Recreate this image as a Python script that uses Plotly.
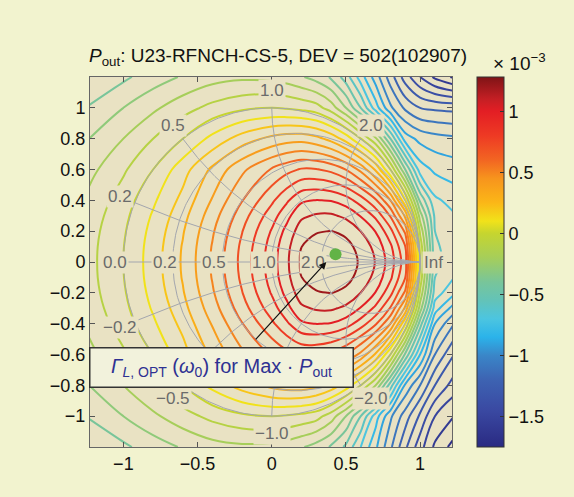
import numpy as np
import plotly.graph_objects as go

# ---------------- data (in units of 1e-3) ----------------
gamma_re = [-1.23, -1.0, -0.8, -0.6, -0.4, -0.2, 0.0, 0.1, 0.2, 0.3, 0.4, 0.5, 0.6, 0.7, 0.8, 0.9, 1.0, 1.1, 1.23]
gamma_im = [-1.2, -1.0, -0.8, -0.6, -0.4, -0.3, -0.2, -0.1, 0.0, 0.1, 0.2, 0.3, 0.4, 0.6, 0.8, 1.0, 1.2]

pout_e3 = [
    [-0.50, -0.42, -0.35, -0.29, -0.24, -0.22, -0.23, -0.25, -0.29, -0.34, -0.41, -0.52, -0.70, -0.88, -1.08, -1.28, -1.46, -1.62, -1.74],
    [-0.39, -0.30, -0.22, -0.14, -0.07, -0.02, 0.00, -0.01, -0.03, -0.06, -0.15, -0.30, -0.50, -0.75, -0.98, -1.15, -1.32, -1.50, -1.60],
    [-0.30, -0.20, -0.10, 0.00, 0.130, 0.246, 0.329, 0.355, 0.361, 0.329, 0.265, 0.159, 0.00, -0.20, -0.55, -0.92, -1.10, -1.30, -1.45],
    [-0.23, -0.115, 0.00, 0.157, 0.321, 0.478, 0.610, 0.667, 0.710, 0.707, 0.673, 0.598, 0.472, 0.285, 0.00, -0.42, -0.80, -1.10, -1.30],
    [-0.174, -0.052, 0.082, 0.230, 0.409, 0.596, 0.780, 0.882, 0.982, 1.003, 0.995, 0.948, 0.851, 0.716, 0.500, 0.111, -0.45, -0.90, -1.10],
    [-0.154, -0.029, 0.112, 0.265, 0.454, 0.654, 0.854, 0.967, 1.081, 1.112, 1.115, 1.079, 0.994, 0.877, 0.691, 0.378, -0.25, -0.75, -0.95],
    [-0.14, -0.013, 0.133, 0.291, 0.487, 0.696, 0.909, 1.029, 1.154, 1.192, 1.202, 1.175, 1.099, 0.996, 0.832, 0.579, -0.12, -0.65, -0.78],
    [-0.132, -0.003, 0.146, 0.307, 0.507, 0.722, 0.942, 1.068, 1.199, 1.241, 1.256, 1.234, 1.164, 1.070, 0.920, 0.702, -0.03, -0.60, -0.70],
    [-0.13, 0.00, 0.150, 0.312, 0.514, 0.731, 0.952, 1.080, 1.214, 1.257, 1.274, 1.254, 1.186, 1.095, 0.950, 0.744, 0.00, -0.57, -0.65],
    [-0.132, -0.003, 0.146, 0.307, 0.507, 0.722, 0.942, 1.068, 1.199, 1.241, 1.256, 1.234, 1.164, 1.070, 0.920, 0.702, -0.03, -0.58, -0.66],
    [-0.14, -0.013, 0.133, 0.291, 0.487, 0.696, 0.909, 1.029, 1.154, 1.192, 1.202, 1.175, 1.099, 0.996, 0.832, 0.579, -0.12, -0.60, -0.67],
    [-0.154, -0.029, 0.112, 0.265, 0.454, 0.654, 0.854, 0.967, 1.081, 1.112, 1.115, 1.079, 0.994, 0.877, 0.691, 0.378, -0.25, -0.62, -0.69],
    [-0.174, -0.052, 0.082, 0.230, 0.409, 0.596, 0.780, 0.882, 0.982, 1.003, 0.995, 0.948, 0.851, 0.716, 0.500, 0.111, -0.42, -0.68, -0.74],
    [-0.23, -0.115, 0.00, 0.157, 0.321, 0.478, 0.610, 0.667, 0.710, 0.707, 0.673, 0.598, 0.472, 0.285, 0.00, -0.40, -0.75, -0.82, -0.85],
    [-0.30, -0.20, -0.10, 0.00, 0.130, 0.246, 0.329, 0.355, 0.361, 0.329, 0.265, 0.159, 0.00, -0.18, -0.50, -0.85, -0.93, -0.96, -0.98],
    [-0.39, -0.30, -0.22, -0.14, -0.07, -0.02, 0.00, -0.01, -0.03, -0.06, -0.15, -0.30, -0.50, -0.75, -0.98, -1.12, -1.20, -1.22, -1.23],
    [-0.50, -0.42, -0.35, -0.29, -0.24, -0.22, -0.23, -0.25, -0.29, -0.34, -0.41, -0.55, -0.75, -0.95, -1.15, -1.35, -1.50, -1.62, -1.72],
]

opt_point = (0.43, 0.05)          # Gamma_L,OPT marker
arrow_head = (0.368, 0.0)
arrow_tail = (-0.135, -0.53)

smith_r = [0.2, 0.5, 1.0, 2.0]
smith_x = [0.2, 0.5, 1.0, 2.0]
r_labels = ["0.0", "0.2", "0.5", "1.0", "2.0"]
r_label_vals = [0.0, 0.2, 0.5, 1.0, 2.0]
x_labels = ["0.2", "0.5", "1.0", "2.0", "\u22120.2", "\u22120.5", "\u22121.0", "\u22122.0"]
x_label_vals = [0.2, 0.5, 1.0, 2.0, -0.2, -0.5, -1.0, -2.0]

cbar_ticks = [-1.5, -1.0, -0.5, 0.0, 0.5, 1.0]
cbar_ticktext = ["\u22121.5", "\u22121", "\u22120.5", "0", "0.5", "1"]
cbar_min, cbar_max = -1.75, 1.28
lev_start, lev_end, lev_step = -1.7, 1.2, 0.1

# colours sampled from the reference colour bar (value, colour)
color_stops = [
    (-1.75, "#2a2a82"), (-1.45, "#3a49a2"), (-1.2, "#3d63b2"), (-1.0, "#3a86c8"),
    (-0.85, "#2bb3ea"), (-0.7, "#4cc5e0"), (-0.55, "#63c3b8"), (-0.4, "#78c59a"),
    (-0.2, "#a6ce5a"), (0.0, "#c6d52f"), (0.1, "#f1e21a"), (0.25, "#fbb717"),
    (0.45, "#f7941d"), (0.6, "#f26522"), (0.8, "#ee3a24"), (1.0, "#e31e24"),
    (1.1, "#c41f24"), (1.28, "#7f1416"),
]

PAPER_BG = "#f2f3cf"
PLOT_BG = "#e9e2c3"

# ---------------- helpers ----------------
def hex2rgb(h):
    h = h.lstrip("#")
    return [int(h[i:i + 2], 16) for i in (0, 2, 4)]

def color_at(v):
    vals = [s[0] for s in color_stops]
    rgbs = [hex2rgb(s[1]) for s in color_stops]
    ch = [float(np.interp(v, vals, [c[k] for c in rgbs])) for k in range(3)]
    return "rgb(%d,%d,%d)" % tuple(int(round(c)) for c in ch)

cb_scale = [[round(float((v - cbar_min) / (cbar_max - cbar_min)), 6), c] for v, c in color_stops]
cb_scale[0][0], cb_scale[-1][0] = 0.0, 1.0
n_lev = int(round((lev_end - lev_start) / lev_step)) + 1
levels = [lev_start + i * lev_step for i in range(n_lev)]
ct_scale = [[round(i / (n_lev - 1), 6), color_at(lv)] for i, lv in enumerate(levels)]
ct_scale[0][0], ct_scale[-1][0] = 0.0, 1.0

fig = go.Figure()

fig.add_trace(go.Contour(
    x=gamma_re, y=gamma_im, z=pout_e3,
    contours=dict(start=lev_start, end=lev_end, size=lev_step, coloring="lines"),
    line=dict(width=2, smoothing=1.0),
    colorscale=ct_scale, showscale=False, hoverinfo="skip",
))

# Smith chart grid
gx, gy = [], []
th = np.linspace(0, 2 * np.pi, 361)
gx += [float(v) for v in np.cos(th)] + [None]
gy += [float(v) for v in np.sin(th)] + [None]
for r in smith_r:
    c, rad = r / (1 + r), 1 / (1 + r)
    gx += [float(c + rad * np.cos(t)) for t in th] + [None]
    gy += [float(rad * np.sin(t)) for t in th] + [None]
rr = np.concatenate([[0.0], np.logspace(-3, 3, 400)])
for xv in smith_x + [-v for v in smith_x]:
    z = rr + 1j * xv
    g = (z - 1) / (z + 1)
    gx += [float(v) for v in g.real] + [None]
    gy += [float(v) for v in g.imag] + [None]
gx += [-1, 1, None]
gy += [0, 0, None]
fig.add_trace(go.Scatter(x=gx, y=gy, mode="lines", line=dict(color="#a3a6ae", width=1),
                         hoverinfo="skip"))

fig.add_trace(go.Scatter(x=[opt_point[0]], y=[opt_point[1]], mode="markers",
                         marker=dict(color="#62b346", size=12), hoverinfo="skip"))

# colour bar carrier
fig.add_trace(go.Scatter(
    x=[9, 9], y=[9, 9], mode="markers",
    marker=dict(color=[cbar_min, cbar_max], cmin=cbar_min, cmax=cbar_max, colorscale=cb_scale,
                size=1, showscale=True,
                colorbar=dict(x=(477 - 90) / 362, xanchor="left", xpad=0, y=0.5, yanchor="middle",
                              len=1, ypad=0, thickness=27, outlinewidth=1, outlinecolor="#333",
                              ticks="inside", ticklen=4, tickcolor="#333",
                              tickvals=cbar_ticks, ticktext=cbar_ticktext,
                              tickfont=dict(size=18, color="#111"))),
    hoverinfo="skip"))

ann = []
lab_font = dict(size=17, color="#6b6b6b")
for txt, r in zip(r_labels, r_label_vals):
    ann.append(dict(x=(r - 1) / (r + 1) - 0.055, y=0, text=txt, showarrow=False, font=lab_font,
                    bgcolor=PLOT_BG, borderpad=1))
ann.append(dict(x=1.09, y=0, text="Inf", showarrow=False, font=lab_font, bgcolor=PLOT_BG, borderpad=1))
for txt, xv in zip(x_labels, x_label_vals):
    g = (1j * xv - 1) / (1j * xv + 1)
    ann.append(dict(x=float(1.11 * g.real), y=float(1.11 * g.imag), text=txt, showarrow=False,
                    font=lab_font, bgcolor=PLOT_BG, borderpad=1))

ann.append(dict(x=arrow_head[0], y=arrow_head[1], ax=arrow_tail[0], ay=arrow_tail[1],
                axref="x", ayref="y", text=" ", showarrow=True, arrowhead=2, arrowsize=1.2,
                arrowwidth=1.2, arrowcolor="#111"))
ann.append(dict(x=-0.339, y=-0.684, xanchor="center", yanchor="middle",
                text="<i>\u0393</i><sub><i>L</i>, OPT</sub> (<i>\u03c9</i><sub>0</sub>) for Max \u00b7 <i>P</i><sub>out</sub>",
                showarrow=False, font=dict(size=20, color="#2e3192"),
                bgcolor="#f2f2dc", bordercolor="#333", borderwidth=1.5, width=260, height=36))
ann.append(dict(xref="paper", yref="paper", x=(519 - 90) / 362, y=1 + 15 / 370,
                xanchor="center", yanchor="middle",
                text="\u00d7 10<sup>\u22123</sup>", showarrow=False,
                font=dict(size=19, color="#111")))

fig.update_layout(
    width=574, height=497, margin=dict(l=90, r=122, t=77, b=50, autoexpand=False),
    paper_bgcolor=PAPER_BG, plot_bgcolor=PLOT_BG, showlegend=False,
    font=dict(family="Liberation Sans, Arial, sans-serif", size=18, color="#111"),
    title=dict(text="<i>P</i><sub>out</sub>: U23-RFNCH-CS-5, DEV = 502(102907)",
               x=278 / 574, xanchor="center", y=1 - 55 / 497, yanchor="middle",
               font=dict(size=19, color="#111")),
    annotations=ann,
)
fig.update_xaxes(range=[-1.225, 1.215], tickvals=[-1, -0.5, 0, 0.5, 1], ticks="inside", ticklen=5,
                 tickcolor="#555", showline=True, linecolor="#666", linewidth=1, mirror="ticks",
                 showgrid=False, zeroline=False)
fig.update_yaxes(range=[-1.2, 1.2], tickvals=[-1, -0.8, -0.6, -0.4, -0.2, 0, 0.2, 0.4, 0.6, 0.8, 1],
                 ticks="inside", ticklen=5, tickcolor="#555", showline=True, linecolor="#666",
                 linewidth=1, mirror="ticks", showgrid=False, zeroline=False)

fig.write_html("out.html", config={"displayModeBar": False},
               post_script="document.body.style.margin='0';document.body.style.background='%s';"
                           % PAPER_BG)
